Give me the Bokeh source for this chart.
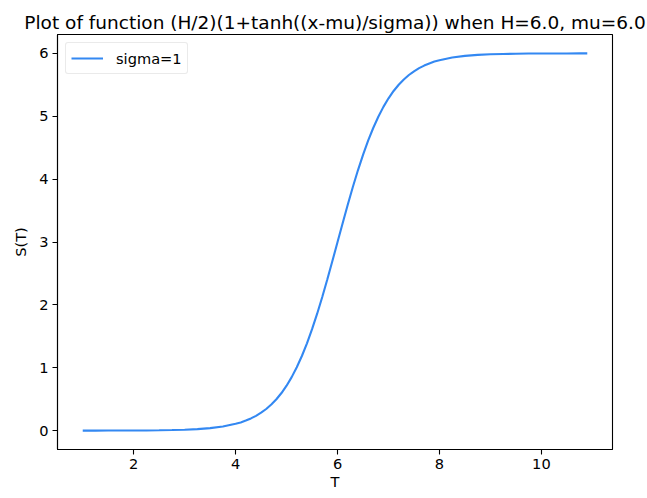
from bokeh.plotting import figure
from bokeh.models import FixedTicker, Range1d, Legend, LegendItem
from bokeh.embed import file_html
from bokeh.resources import INLINE

# Values
T = [1.0, 1.25, 1.5, 1.75, 2.0, 2.25, 2.5, 2.75, 3.0, 3.25, 3.5, 3.75,
     4.0, 4.1, 4.2, 4.3, 4.4, 4.5, 4.6, 4.7, 4.8, 4.9,
     5.0, 5.1, 5.2, 5.3, 5.4, 5.5, 5.6, 5.7, 5.8, 5.9,
     6.0, 6.1, 6.2, 6.3, 6.4, 6.5, 6.6, 6.7, 6.8, 6.9,
     7.0, 7.1, 7.2, 7.3, 7.4, 7.5, 7.6, 7.7, 7.8, 7.9, 8.0,
     8.25, 8.5, 8.75, 9.0, 9.25, 9.5, 9.75, 10.0, 10.25, 10.5, 10.75, 10.9]
S = [0.000, 0.000, 0.001, 0.001, 0.002, 0.003, 0.005, 0.009, 0.015, 0.024, 0.040, 0.066,
     0.108, 0.131, 0.160, 0.194, 0.235, 0.285, 0.344, 0.415, 0.499, 0.598,
     0.715, 0.851, 1.008, 1.187, 1.389, 1.614, 1.860, 2.126, 2.408, 2.701,
     3.000, 3.299, 3.592, 3.874, 4.140, 4.386, 4.611, 4.813, 4.992, 5.149,
     5.285, 5.402, 5.501, 5.585, 5.656, 5.715, 5.765, 5.806, 5.840, 5.869, 5.892,
     5.934, 5.960, 5.976, 5.985, 5.991, 5.994, 5.997, 5.998, 5.999, 5.999, 6.000, 6.000]
x_ticks = [2, 4, 6, 8, 10]
y_ticks = [0, 1, 2, 3, 4, 5, 6]
series_label = "sigma=1"
title_text = "Plot of function (H/2)(1+tanh((x-mu)/sigma)) when H=6.0, mu=6.0"

FONT = "DejaVu Sans"
TXT = "14.6px"

p = figure(width=647, height=498, output_backend="svg", toolbar_location=None,
           title=title_text,
           x_range=Range1d(0.505, 11.395), y_range=Range1d(-0.3, 6.3),
           min_border_left=57, min_border_right=35, min_border_top=34,
           min_border_bottom=49)

p.title.text_font = FONT
p.title.text_font_size = "18.5px"
p.title.text_font_style = "normal"
p.title.align = "center"
p.title.text_color = "black"
p.title.standoff = 4

p.xgrid.visible = False
p.ygrid.visible = False
p.outline_line_color = "black"
p.outline_line_width = 1.1
p.background_fill_color = "white"
p.border_fill_color = "white"

for ax in (p.xaxis[0], p.yaxis[0]):
    ax.major_label_text_font = FONT
    ax.major_label_text_font_size = TXT
    ax.major_label_text_color = "black"
    ax.axis_label_text_font = FONT
    ax.axis_label_text_font_size = TXT
    ax.axis_label_text_font_style = "normal"
    ax.axis_label_text_color = "black"
    ax.major_tick_in = 0
    ax.major_tick_out = 5
    ax.minor_tick_in = 0
    ax.minor_tick_out = 0
    ax.axis_line_color = "black"
    ax.axis_line_width = 1.1
    ax.major_tick_line_width = 1.1
    ax.major_tick_line_color = "black"
    ax.major_label_standoff = 4

p.xaxis[0].ticker = FixedTicker(ticks=x_ticks)
p.yaxis[0].ticker = FixedTicker(ticks=y_ticks)
p.xaxis[0].axis_label = "T"
p.yaxis[0].axis_label = "S(T)"
p.xaxis[0].axis_label_standoff = 1
p.yaxis[0].axis_label_standoff = 7

r = p.line(T, S, line_color="#3388f2", line_width=2.1)

legend = Legend(items=[LegendItem(label=series_label, renderers=[r])],
                location="top_left")
legend.label_text_font = FONT
legend.label_text_font_size = TXT
legend.label_text_color = "black"
legend.border_line_color = "#d6d6d6"
legend.border_line_width = 1
legend.border_radius = 3
legend.margin = 8
legend.padding = 5
legend.glyph_width = 32
legend.label_standoff = 13
legend.spacing = 0
p.add_layout(legend)

open("out.html", "w").write(file_html(p, INLINE))
